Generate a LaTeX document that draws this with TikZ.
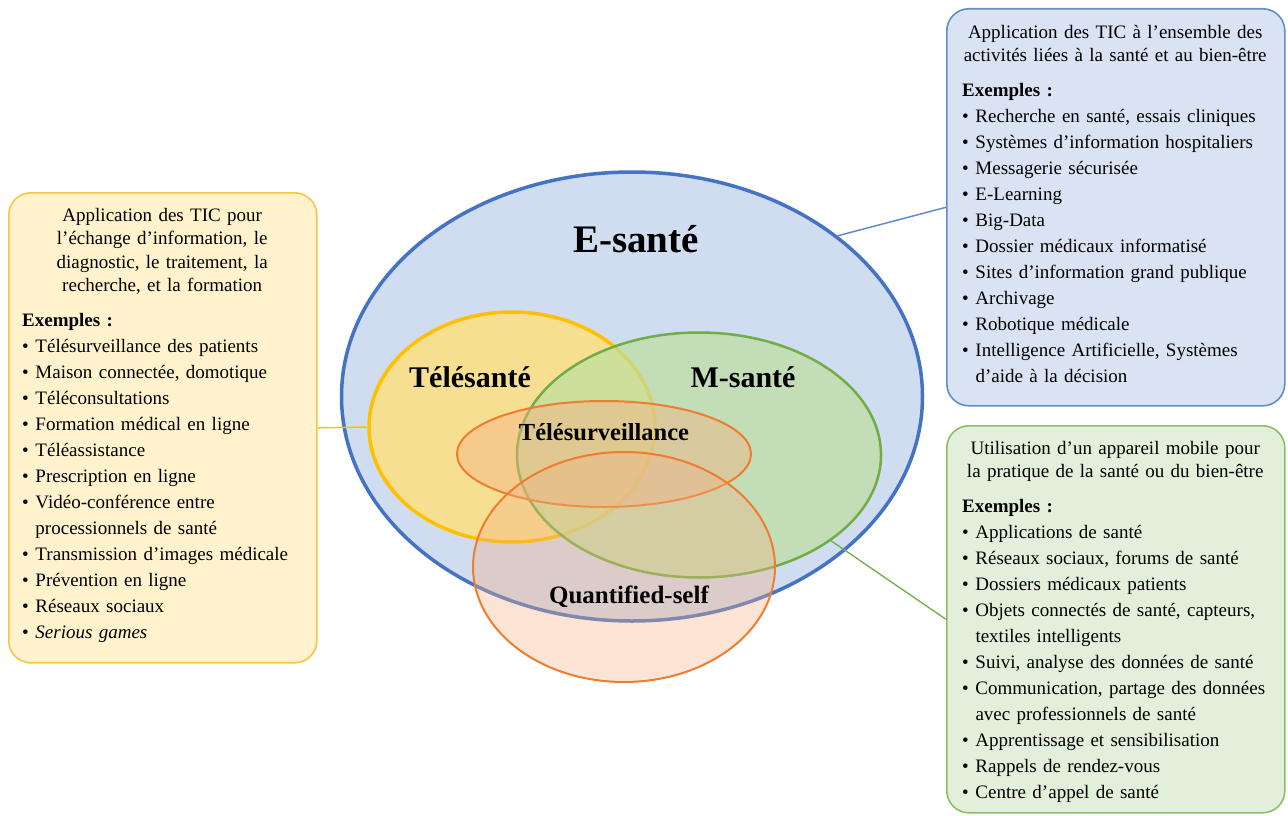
\documentclass[tikz,border=0pt]{standalone}
\usepackage{xcolor}
\usepackage{fontspec}
\setmainfont{Liberation Serif}
\usetikzlibrary{positioning, shapes.geometric}

\definecolor{esblue}{RGB}{68,114,196}
\definecolor{esfill}{RGB}{208,220,240}
\definecolor{tsgold}{RGB}{255,192,0}
\definecolor{tsfill}{RGB}{255,224,130}
\definecolor{msgreen}{RGB}{112,173,71}
\definecolor{msfill}{RGB}{190,222,160}
\definecolor{qsorange}{RGB}{237,125,49}
\definecolor{qsfill}{RGB}{244,177,131}
\definecolor{bxblue}{RGB}{218,227,243}
\definecolor{bxblueline}{RGB}{100,140,205}
\definecolor{bxyellow}{RGB}{255,242,204}
\definecolor{bxyellowline}{RGB}{248,198,70}
\definecolor{bxgreen}{RGB}{226,239,218}
\definecolor{bxgreenline}{RGB}{140,190,100}

\newcommand{\itm}[1]{\hangindent=0.7em\hangafter=1\makebox[0.7em][l]{\textbullet}#1\par}
\newcommand{\nxt}{\hfil\break}
\newcommand{\boxtitle}[1]{{\centering\fontsize{19}{23.5}\selectfont #1\par}\vspace{9pt}\textbf{Exemples :}\par}

\begin{document}
\begin{tikzpicture}[x=1pt, y=-1pt,
		circ/.style={ellipse, inner sep=0pt},
		lbl/.style={anchor=base, inner sep=0pt},
		infobox/.style={rectangle, rounded corners=22pt, line width=1.6pt, inner sep=0pt, anchor=north west},
		boxtext/.style={align=left, inner sep=0pt, anchor=north west, font=\fontsize{19}{26}\selectfont}]
		\useasboundingbox (0,0) rectangle (1288,816);

		% Ellipses
		\node (esante) [circ, draw=esblue, line width=3.5pt, fill=esfill, minimum width=581pt, minimum height=449pt] at (632,396.5) {};
		\node (telesante) [circ, draw=tsgold, line width=3.5pt, fill=tsfill, fill opacity=0.85, minimum width=286pt, minimum height=230pt] at (512,427) {};
		\node (msante) [circ, draw=msgreen, line width=2.5pt, fill=msfill, fill opacity=0.7, minimum width=364pt, minimum height=245pt] at (699,455) {};
		\node (telesurv) [circ, draw=qsorange, line width=2pt, fill=qsfill, fill opacity=0.45, minimum width=294pt, minimum height=106pt] at (604,454) {};
		\node (qself) [circ, draw=qsorange, line width=2pt, fill=qsfill, fill opacity=0.35, minimum width=302pt, minimum height=230pt] at (624,567) {};

		% Labels
		\node (eslabel) [lbl, font=\bfseries\fontsize{39}{39}\selectfont] at (636,252) {E-santé};
		\node (tslabel) [lbl, font=\bfseries\fontsize{30}{30}\selectfont] at (470,387) {Télésanté};
		\node (mslabel) [lbl, font=\bfseries\fontsize{30}{30}\selectfont] at (743,387) {M-santé};
		\node (tvlabel) [lbl, font=\bfseries\fontsize{24.5}{24.5}\selectfont] at (604,440) {Télésurveillance};
		\node (qslabel) [lbl, font=\bfseries\fontsize{25}{25}\selectfont] at (629,603) {Quantified-self};

		% Boxes
		\node (tbox) [infobox, draw=bxyellowline, fill=bxyellow, minimum width=308pt, minimum height=470pt] at (8,192) {};
		\node (ebox) [infobox, draw=bxblueline, fill=bxblue, minimum width=338pt, minimum height=397pt] at (946,8) {};
		\node (mbox) [infobox, draw=bxgreenline, fill=bxgreen, minimum width=338pt, minimum height=387pt] at (946,425) {};

		\node (ttext) [boxtext, text width=280pt] at ([xshift=14pt, yshift=-16pt]tbox.north west) {%
			\boxtitle{Application des TIC pour\\ l’échange d’information, le\\ diagnostic, le traitement, la\\ recherche, et la formation}
			\itm{Télésurveillance des patients}
			\itm{Maison connectée, domotique}
			\itm{Téléconsultations}
			\itm{Formation médical en ligne}
			\itm{Téléassistance}
			\itm{Prescription en ligne}
			\itm{Vidéo-conférence entre\nxt processionnels de santé}
			\itm{Transmission d’images médicale}
			\itm{Prévention en ligne}
			\itm{Réseaux sociaux}
			\itm{\textit{Serious games}}};

		\node (etext) [boxtext, text width=306pt] at ([xshift=16pt, yshift=-17pt]ebox.north west) {%
			\boxtitle{Application des TIC à l’ensemble des\\ activités liées à la santé et au bien-être}
			\itm{Recherche en santé, essais cliniques}
			\itm{Systèmes d’information hospitaliers}
			\itm{Messagerie sécurisée}
			\itm{E-Learning}
			\itm{Big-Data}
			\itm{Dossier médicaux informatisé}
			\itm{Sites d’information grand publique}
			\itm{Archivage}
			\itm{Robotique médicale}
			\itm{Intelligence Artificielle, Systèmes\nxt d’aide à la décision}};

		\node (mtext) [boxtext, text width=306pt] at ([xshift=16pt, yshift=-16pt]mbox.north west) {%
			\boxtitle{Utilisation d’un appareil mobile pour\\ la pratique de la santé ou du bien-être}
			\itm{Applications de santé}
			\itm{Réseaux sociaux, forums de santé}
			\itm{Dossiers médicaux patients}
			\itm{Objets connectés de santé, capteurs,\nxt textiles intelligents}
			\itm{Suivi, analyse des données de santé}
			\itm{Communication, partage des données\nxt avec professionnels de santé}
			\itm{Apprentissage et sensibilisation}
			\itm{Rappels de rendez-vous}
			\itm{Centre d’appel de santé}};

		% Connectors
		\draw[tsgold, line width=1.5pt] (tbox.east) -- (telesante.west);
		\draw[bxblueline, line width=1.5pt] (esante.38) -- (ebox.west);
		\draw[msgreen, line width=1.3pt] (msante.-33) -- (mbox.west);
	\end{tikzpicture}
\end{document}
